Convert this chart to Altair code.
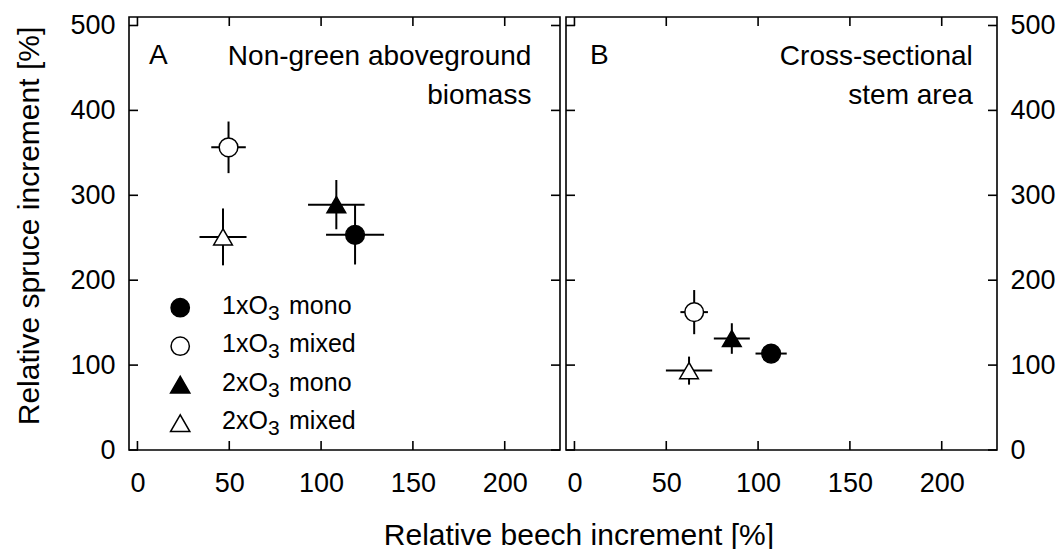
import altair as alt
import pandas as pd

# ---------------- data ----------------
groups = ["1xO3 mono", "1xO3 mixed", "2xO3 mono", "2xO3 mixed"]
legend_prefix = ["1xO", "1xO", "2xO", "2xO"]
legend_sub = ["3", "3", "3", "3"]
legend_suffix = ["mono", "mixed", "mono", "mixed"]
shapes = ["circle", "circle", "triangle-up", "triangle-up"]
fills = ["black", "white", "black", "white"]

# Panel A: non-green aboveground biomass
a_beech = [118.5, 49.6, 108.3, 46.6]
a_beech_err = [15.8, 9.4, 15.4, 12.8]
a_spruce = [253.5, 356.5, 289.0, 251.0]
a_spruce_err = [35.0, 30.4, 29.0, 33.5]

# Panel B: cross-sectional stem area
b_beech = [107.1, 65.2, 85.7, 62.4]
b_beech_err = [8.5, 7.5, 9.8, 12.6]
b_spruce = [113.6, 162.4, 131.3, 93.5]
b_spruce_err = [7.0, 26.0, 18.0, 16.5]

x_ticks = [0, 50, 100, 150, 200]
y_ticks = [0, 100, 200, 300, 400, 500]

x_title = "Relative beech increment [%]"
y_title = "Relative spruce increment [%]"

# ---------------- styling ----------------
FONT = "Liberation Sans"
W, H = 431, 433
TICK = 9
xscale = alt.Scale(domain=[-4.6, 230.1], nice=False, zero=False)
yscale = alt.Scale(domain=[0, 510], nice=False, zero=False)


def text_mark(txt, x, y, size=28, align="left"):
    return alt.Chart(pd.DataFrame({"t": [txt]})).mark_text(
        align=align, baseline="alphabetic", fontSize=size, font=FONT, color="black"
    ).encode(text="t:N", x=alt.value(x), y=alt.value(y))


def panel(beech, berr, spruce, serr, side, letter, letter_x, lines, lines_x, with_legend):
    df = pd.DataFrame({"group": groups, "beech": beech, "berr": berr,
                       "spruce": spruce, "serr": serr})
    df["xlo"] = df["beech"] - df["berr"]
    df["xhi"] = df["beech"] + df["berr"]
    df["ylo"] = df["spruce"] - df["serr"]
    df["yhi"] = df["spruce"] + df["serr"]
    base = alt.Chart(df)

    if side == "left":
        xax = alt.Axis(values=x_ticks, labelFlush=False, labelBaseline="alphabetic",
                       labelPadding=41, title=x_title, titleX=449.4, titleY=94,
                       titleBaseline="alphabetic", titleAlign="center",
                       titleFontSize=30, titleFontWeight="normal")
        yax = alt.Axis(values=y_ticks, orient="left", labelPadding=14,
                       title=y_title, titleX=-90.8, titleY=208.5, titleAngle=270,
                       titleBaseline="alphabetic", titleAlign="center",
                       titleFontSize=30, titleFontWeight="normal")
        xenc = alt.X("xlo:Q", scale=xscale, axis=xax)
        yenc = alt.Y("spruce:Q", scale=yscale, axis=yax)
    else:
        xax = alt.Axis(values=x_ticks, labelFlush=False, labelBaseline="alphabetic",
                       labelPadding=41)
        yax = alt.Axis(values=y_ticks, orient="right", labelPadding=13)
        xenc = alt.X("xlo:Q", scale=xscale, axis=xax, title=None)
        yenc = alt.Y("spruce:Q", scale=yscale, axis=yax, title=None)

    hbar = base.mark_rule(color="black", strokeWidth=2).encode(
        x=xenc, x2="xhi:Q", y=yenc)
    vbar = base.mark_rule(color="black", strokeWidth=2).encode(
        x=alt.X("beech:Q", scale=xscale, axis=None),
        y=alt.Y("ylo:Q", scale=yscale, axis=None), y2="yhi:Q")
    pts = base.mark_point(filled=True, stroke="black", strokeWidth=1.5, opacity=1).encode(
        x=alt.X("beech:Q", scale=xscale, axis=None),
        y=alt.Y("spruce:Q", scale=yscale, axis=None),
        shape=alt.Shape("group:N", scale=alt.Scale(domain=groups, range=shapes), legend=None),
        fill=alt.Fill("group:N", scale=alt.Scale(domain=groups, range=fills), legend=None),
        size=alt.Size("group:N", scale=alt.Scale(domain=groups, range=[350, 350, 400, 400]),
                      legend=None),
    )

    xt = alt.Chart(pd.DataFrame({"v": x_ticks}))
    yt = alt.Chart(pd.DataFrame({"v": y_ticks}))
    tk = dict(color="black", strokeWidth=1.6)
    ticks = [
        xt.mark_rule(**tk).encode(x=alt.X("v:Q", scale=xscale, axis=None),
                                  y=alt.value(0), y2=alt.value(TICK)),
        xt.mark_rule(**tk).encode(x=alt.X("v:Q", scale=xscale, axis=None),
                                  y=alt.value(H), y2=alt.value(H - TICK)),
        yt.mark_rule(**tk).encode(y=alt.Y("v:Q", scale=yscale, axis=None),
                                  x=alt.value(0), x2=alt.value(TICK)),
        yt.mark_rule(**tk).encode(y=alt.Y("v:Q", scale=yscale, axis=None),
                                  x=alt.value(W), x2=alt.value(W - TICK)),
    ]

    ann = [text_mark(letter, letter_x, 46.7)]
    for i, ln in enumerate(lines):
        ann.append(text_mark(ln, lines_x, 47.7 + 39 * i, align="right"))

    leg = []
    if with_legend:
        for i in range(len(groups)):
            ym = 290.7 + 38.5 * i
            yb = 296.7 + 38.5 * i
            leg.append(
                alt.Chart(pd.DataFrame({"g": [groups[i]]})).mark_point(
                    shape=shapes[i], filled=True, fill=fills[i], stroke="black",
                    strokeWidth=1.5, opacity=1,
                    size=335 if shapes[i] == "circle" else 372,
                ).encode(x=alt.value(51.2), y=alt.value(ym))
            )
            leg.append(text_mark(legend_prefix[i], 93, yb, size=25))
            leg.append(text_mark(legend_sub[i], 139, yb + 6, size=21))
            leg.append(text_mark(legend_suffix[i], 160, yb, size=25))

    return alt.layer(hbar, vbar, pts, *ticks, *ann, *leg).resolve_axis(
        x="independent", y="independent"
    ).properties(width=W, height=H)


panel_a = panel(a_beech, a_beech_err, a_spruce, a_spruce_err, "left", "A", 20,
                ["Non-green aboveground", "biomass"], 402.4, True)
panel_b = panel(b_beech, b_beech_err, b_spruce, b_spruce_err, "right", "B", 24,
                ["Cross-sectional", "stem area"], 406.8, False)

chart = alt.hconcat(panel_a, panel_b, spacing=6, bounds="flush").properties(
    padding={"left": 13, "top": 10, "right": 0, "bottom": 0},
    background="white",
).configure_view(
    stroke="black", strokeWidth=1.6
).configure_axis(
    labelFont=FONT, labelFontSize=27, labelColor="black",
    titleFont=FONT, titleColor="black",
    ticks=False, tickSize=0, domain=False, grid=False,
)

chart.save("out.html", embed_options={"renderer": "svg", "actions": False})
